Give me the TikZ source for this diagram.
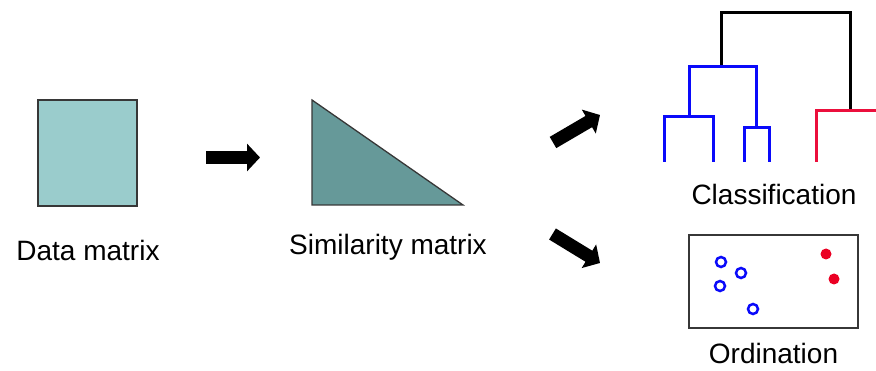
\documentclass[tikz,border=0pt]{standalone}
\usepackage{fontspec}
\setmainfont{Liberation Sans}
\usetikzlibrary{arrows.meta}
\definecolor{lightteal}{RGB}{154,204,204}
\definecolor{darkteal}{RGB}{102,153,153}
\definecolor{edgegray}{RGB}{55,55,55}
\definecolor{dendblue}{RGB}{10,10,250}
\definecolor{dendred}{RGB}{235,15,60}
\definecolor{dotred}{RGB}{235,0,35}
\begin{document}
\begin{tikzpicture}[x=1pt,y=-1pt,
  lbl/.style={font=\fontsize{28}{32}\selectfont, anchor=base, inner sep=0pt},
  fatarrow/.style={line width=13pt, -{Triangle[length=13pt,width=27pt]}},
  dend/.style={line width=3pt, line join=miter},
  opendot/.style={draw=dendblue, line width=2.5pt, fill=white},
  filldot/.style={fill=dotred}]
\useasboundingbox (0,0) rectangle (876,371);
% data matrix
\node[draw=edgegray, line width=1.3pt, fill=lightteal, minimum width=99pt, minimum height=106pt, inner sep=0pt] (data) at (87.5,153) {};
\node[lbl] (datalbl) at (88,261) {Data matrix};
% similarity matrix triangle
\coordinate (t1) at (312,100);
\coordinate (t2) at (312,205);
\coordinate (t3) at (463,205);
\draw[edgegray, line width=1.3pt, fill=darkteal, line join=miter] (t1) -- (t2) -- (t3) -- cycle;
\node[lbl] (simlbl) at (388,255) {Similarity matrix};
% arrows
\coordinate (a1s) at (206,157.5);
\coordinate (a1e) at (260,157.5);
\draw[fatarrow] (a1s) -- (a1e);
\coordinate (a2s) at (553,142.5);
\coordinate (a2e) at (600,115);
\draw[fatarrow] (a2s) -- (a2e);
\coordinate (a3s) at (552.5,234);
\coordinate (a3e) at (600,263);
\draw[fatarrow] (a3s) -- (a3e);
% dendrogram
\draw[dend, black] (721,67) -- (721,13) -- (850,13) -- (850,111);
\draw[dend, dendblue] (689,117) -- (689,67) -- (756,67) -- (756,128);
\draw[dend, dendblue] (664,162) -- (664,117) -- (713,117) -- (713,162);
\draw[dend, dendblue] (744,162) -- (744,128) -- (769,128) -- (769,162);
\draw[dend, dendred] (816,162) -- (816,111) -- (878,111);
\node[lbl] (classlbl) at (774,205) {Classification};
% ordination
\node[draw=edgegray, line width=2pt, minimum width=169pt, minimum height=93pt, inner sep=0pt] (ordbox) at (773.5,281.5) {};
\draw[opendot] (721,262) circle (5pt);
\draw[opendot] (741,273) circle (5pt);
\draw[opendot] (720,286) circle (5pt);
\draw[opendot] (753,309) circle (5pt);
\fill[filldot] (826,254) circle (5.5pt);
\fill[filldot] (834,279) circle (5.5pt);
\node[lbl] (ordlbl) at (773.5,364) {Ordination};
\end{tikzpicture}
\end{document}
